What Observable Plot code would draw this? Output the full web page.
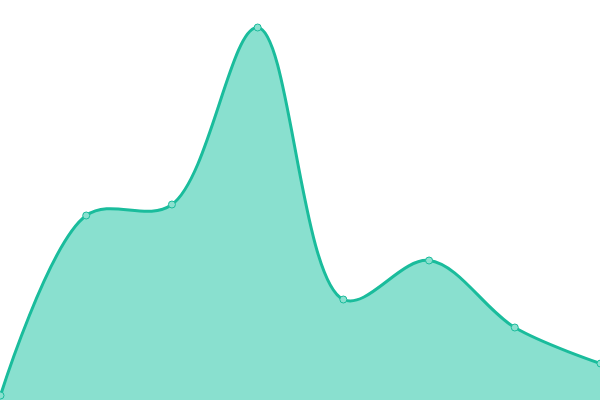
<!DOCTYPE html>
<html>
<head>
<meta charset="utf-8">
<script src="https://cdn.jsdelivr.net/npm/d3@7"></script>
<script src="https://cdn.jsdelivr.net/npm/@observablehq/plot@0.6"></script>
<style>
  html, body { margin: 0; padding: 0; background: #fff; }
  #chart svg { display: block; }
</style>
</head>
<body>
<div id="chart"></div>
<script>
const xIndex = [0, 1, 2, 3, 4, 5, 6, 7];
const values = [5, 185, 196, 373, 101, 140, 73, 37];

const data = xIndex.map((x, i) => ({x, y: values[i]}));

const chart = Plot.plot({
  width: 600,
  height: 400,
  margin: 0,
  x: {domain: [0, 7], axis: null},
  y: {domain: [0, 400], axis: null},
  marks: [
    Plot.areaY(data, {x: "x", y: "y", curve: "catmull-rom", fill: "#89e0cf"}),
    Plot.lineY(data, {x: "x", y: "y", curve: "catmull-rom", stroke: "#1abc9c", strokeWidth: 3}),
    Plot.dot(data, {x: "x", y: "y", r: 3.5, fill: "#8be0cf", stroke: "#1abc9c", strokeWidth: 1})
  ]
});
document.getElementById("chart").appendChild(chart);
</script>
</body>
</html>
